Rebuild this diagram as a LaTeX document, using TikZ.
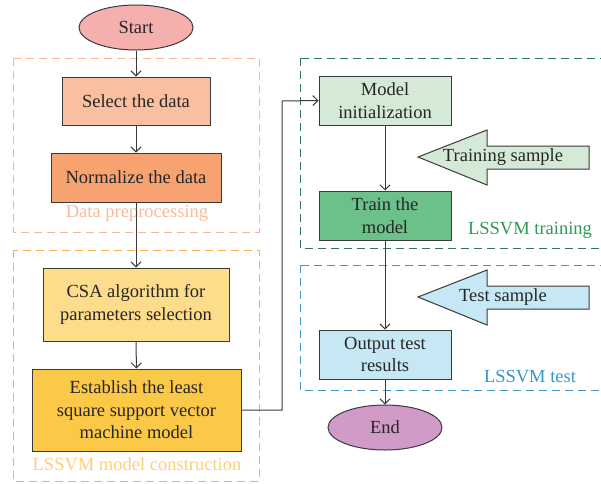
\documentclass[tikz,border=0pt]{standalone}
\usepackage{fontspec}
\setmainfont{Liberation Serif}
\usetikzlibrary{arrows.meta,positioning,shapes.geometric}

\definecolor{linegray}{HTML}{3A3A3A}
\definecolor{startfill}{HTML}{F5B0AD}
\definecolor{selfill}{HTML}{F9BFA0}
\definecolor{normfill}{HTML}{F6A271}
\definecolor{prepline}{HTML}{F7B79A}
\definecolor{preptext}{HTML}{F9BA9A}
\definecolor{csafill}{HTML}{FDDC8C}
\definecolor{estfill}{HTML}{FCC847}
\definecolor{buildline}{HTML}{F6B647}
\definecolor{buildtext}{HTML}{FBD07A}
\definecolor{initfill}{HTML}{D4EAD6}
\definecolor{trainfill}{HTML}{6CC08A}
\definecolor{trainline}{HTML}{2F7A50}
\definecolor{traintext}{HTML}{2A9A55}
\definecolor{testfill}{HTML}{C6E8F4}
\definecolor{testline}{HTML}{3A96C8}
\definecolor{testtext}{HTML}{3397C9}
\definecolor{endfill}{HTML}{D29BC7}

\tikzset{
    x=1pt, y=-1pt, % one unit is one pixel of the figure, y downwards
    every node/.style={font=\fontsize{18.5}{22.5}\selectfont, text=black!85},
    box/.style={draw=linegray, line width=1pt, align=center, inner sep=0pt}, % process steps
    term/.style={ellipse, draw=linegray, line width=1pt, minimum width=114pt, minimum height=45pt, inner sep=0pt}, % start and end
    group/.style={line width=1pt, dash pattern=on 8pt off 5pt}, % dashed stage frames
    grplabel/.style={inner sep=0pt},
    flow/.style={draw=linegray, line width=1pt, -{Straight Barb[length=5pt,width=10pt]}},
    fatarrow/.style={draw=linegray, line width=1pt, line join=miter},
}

\begin{document}
\begin{tikzpicture}
  \useasboundingbox (0,0) rectangle (601,483);
  \clip (0,0) rectangle (601,483);

  % stage frames
  \draw[group, draw=prepline]  (13,58)  rectangle (259,232);
  \draw[group, draw=buildline] (13,250) rectangle (259,481);
  \draw[group, draw=trainline] (300,58) rectangle (615,248);
  \draw[group, draw=testline]  (300,265) rectangle (615,390);

  \node[grplabel, text=preptext]  (preplab)  at (137,213) {Data preprocessing};
  \node[grplabel, text=buildtext] (buildlab) at (137,464) {LSSVM model construction};
  \node[grplabel, text=traintext] (trainlab) at (530,230) {LSSVM training};
  \node[grplabel, text=testtext]  (testlab)  at (530,377) {LSSVM test};

  % left column
  \node[term, fill=startfill] (start) at (136,27.5) {Start};
  \node[box, fill=selfill, minimum width=148pt, minimum height=48pt] (sel) at (136,101) {Select the data};
  \node[box, fill=normfill, minimum width=170pt, minimum height=49pt] (norm) at (136,177.5) {Normalize the data};
  \node[box, fill=csafill, minimum width=186pt, minimum height=73pt] (csa) at (136,304.5) {CSA algorithm for\\parameters selection};
  \node[box, fill=estfill, minimum width=209pt, minimum height=82pt] (est) at (136.5,410) {Establish the least\\square support vector\\machine model};

  % right column
  \node[box, fill=initfill, minimum width=132pt, minimum height=49pt] (init) at (385,100.5) {Model\\initialization};
  \node[box, fill=trainfill, minimum width=132pt, minimum height=49pt] (train) at (385,215.5) {Train the\\model};
  \node[box, fill=testfill, minimum width=132pt, minimum height=49pt] (out) at (385,354.5) {Output test\\results};
  \node[term, fill=endfill] (end) at (385,427.5) {End};

  % sample arrows
  \filldraw[fatarrow, fill=initfill] (418,157) -- (487,130) -- (487,146) -- (589,146)
    -- (589,169) -- (487,169) -- (487,185) -- cycle;
  \node (trainsample) at (503,157) {Training sample};
  \filldraw[fatarrow, fill=testfill] (418,297) -- (487,270) -- (487,286) -- (589,286)
    -- (589,309) -- (487,309) -- (487,325) -- cycle;
  \node (testsample) at (503,297) {Test sample};

  % connectors
  \coordinate (turn) at (282,101);
  \draw[flow] (start) -- (sel);
  \draw[flow] (sel) -- (norm);
  \draw[flow] (norm) -- (csa);
  \draw[flow] (csa) -- (est);
  \draw[flow] (est.east) -| (turn) -- (init.west);
  \draw[flow] (init) -- (train);
  \draw[flow] (train) -- (out);
  \draw[flow] (out) -- (end);
\end{tikzpicture}
\end{document}
